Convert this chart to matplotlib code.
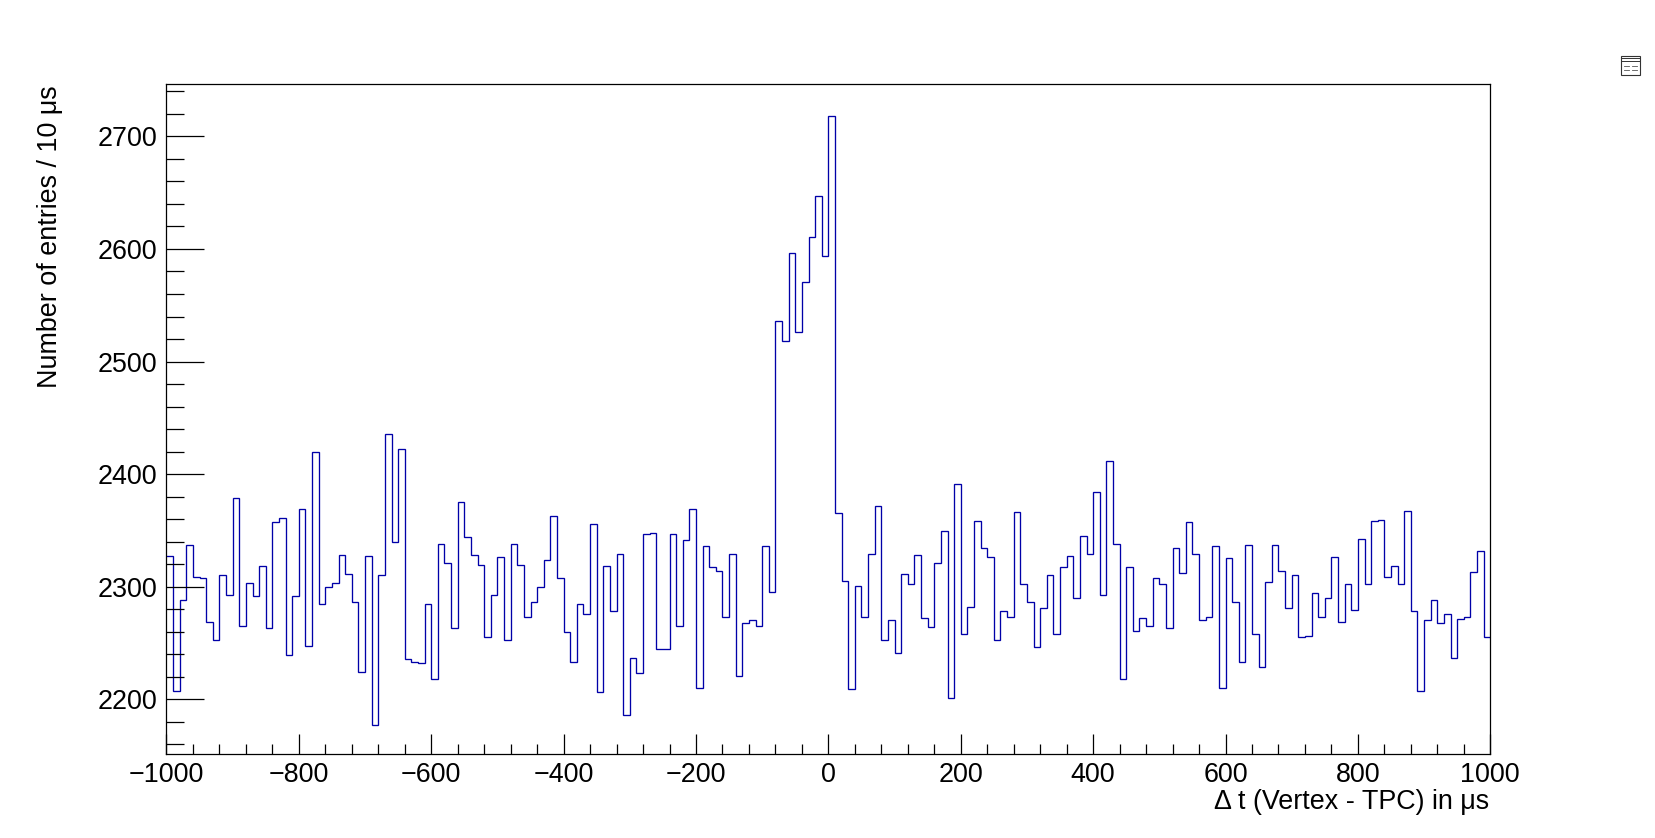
import numpy as np
import matplotlib
matplotlib.use("Agg")
import matplotlib.pyplot as plt
from matplotlib.patches import Rectangle
from matplotlib.lines import Line2D
from matplotlib.ticker import MultipleLocator

# ---- data -------------------------------------------------------------
x_min, x_max, n_bins = -1000, 1000, 200
counts = [
    2327, 2207, 2288, 2337, 2309, 2308, 2269, 2253, 2310, 2293,
    2379, 2265, 2303, 2292, 2318, 2263, 2357, 2361, 2239, 2292,
    2369, 2247, 2420, 2285, 2300, 2303, 2328, 2311, 2286, 2224,
    2327, 2177, 2310, 2436, 2340, 2422, 2236, 2233, 2232, 2285,
    2218, 2338, 2321, 2263, 2375, 2344, 2328, 2319, 2255, 2293,
    2326, 2253, 2338, 2319, 2273, 2286, 2300, 2324, 2363, 2308,
    2260, 2233, 2285, 2276, 2356, 2206, 2318, 2278, 2329, 2186,
    2237, 2223, 2347, 2348, 2245, 2245, 2347, 2265, 2341, 2369,
    2210, 2336, 2317, 2314, 2273, 2329, 2221, 2268, 2270, 2265,
    2336, 2295, 2536, 2518, 2596, 2526, 2571, 2611, 2647, 2594,
    2718, 2365, 2305, 2209, 2301, 2273, 2329, 2372, 2253, 2270,
    2241, 2311, 2302, 2328, 2272, 2264, 2321, 2349, 2201, 2391,
    2258, 2282, 2358, 2334, 2326, 2253, 2278, 2273, 2366, 2302,
    2286, 2246, 2281, 2310, 2258, 2317, 2327, 2290, 2345, 2329,
    2384, 2293, 2412, 2338, 2218, 2317, 2261, 2272, 2265, 2308,
    2302, 2263, 2334, 2312, 2357, 2329, 2270, 2273, 2336, 2210,
    2325, 2286, 2233, 2337, 2258, 2229, 2304, 2337, 2314, 2281,
    2310, 2255, 2256, 2294, 2273, 2290, 2326, 2269, 2302, 2279,
    2342, 2302, 2358, 2359, 2309, 2318, 2302, 2367, 2278, 2207,
    2270, 2288, 2268, 2276, 2237, 2271, 2273, 2313, 2332, 2255,
]
y_min, y_max = 2151.3, 2746.3
x_label = "\u0394 t (Vertex - TPC) in \u03bcs"
y_label = "Number of entries / 10 \u03bcs"

# ---- figure -----------------------------------------------------------
W, H = 1656, 838
DPI = 100
plt.rcParams['font.family'] = ['Liberation Sans', 'DejaVu Sans']
fig = plt.figure(figsize=(W / DPI, H / DPI), dpi=DPI)
fig.patch.set_facecolor('white')

ax = fig.add_axes([166.5 / W, 1 - 754 / H, (1490.3 - 166.5) / W, (754 - 84.3) / H])
edges = np.linspace(x_min, x_max, n_bins + 1)
ax.stairs(counts, edges, baseline=None, color='#0000a8', lw=0.95)

ax.set_xlim(x_min, x_max)
ax.set_ylim(y_min, y_max)

for s in ax.spines.values():
    s.set_linewidth(0.9)
    s.set_color('black')

ax.xaxis.set_major_locator(MultipleLocator(200))
ax.xaxis.set_minor_locator(MultipleLocator(40))
ax.yaxis.set_major_locator(MultipleLocator(100))
ax.yaxis.set_minor_locator(MultipleLocator(20))

fs = 19.4
ax.tick_params(axis='x', which='major', direction='in', length=14.4, width=0.9,
               labelsize=fs, pad=6.0, top=False)
ax.tick_params(axis='x', which='minor', direction='in', length=7.2, width=0.9, top=False)
ax.tick_params(axis='y', which='major', direction='in', length=27.4, width=0.9,
               labelsize=fs, pad=6.8, right=False)
ax.tick_params(axis='y', which='minor', direction='in', length=13.0, width=0.9, right=False)

fig.text(1489 / W, 1 - 809.3 / H, x_label, ha='right', va='baseline', fontsize=fs)
fig.text(57 / W, 1 - 85 / H, y_label, ha='right', va='baseline', rotation=90,
         rotation_mode='anchor', fontsize=fs)

# small canvas icon at the top right
px = lambda x: x / W
py = lambda y: 1 - y / H
fig.patches.append(Rectangle((px(1621), py(75)), 19 / W, 19 / H, transform=fig.transFigure,
                             fill=False, edgecolor='#333333', lw=0.8))
for yy in (58.5, 61):
    fig.lines.append(Line2D([px(1621), px(1640)], [py(yy), py(yy)], transform=fig.transFigure,
                            color='#333333', lw=0.7))
for yy in (66, 70):
    fig.lines.append(Line2D([px(1624), px(1629)], [py(yy), py(yy)], transform=fig.transFigure,
                            color='#555555', lw=0.6))
    fig.lines.append(Line2D([px(1632), px(1637)], [py(yy), py(yy)], transform=fig.transFigure,
                            color='#555555', lw=0.6))

fig.savefig('out.png', dpi=DPI, facecolor='white')
